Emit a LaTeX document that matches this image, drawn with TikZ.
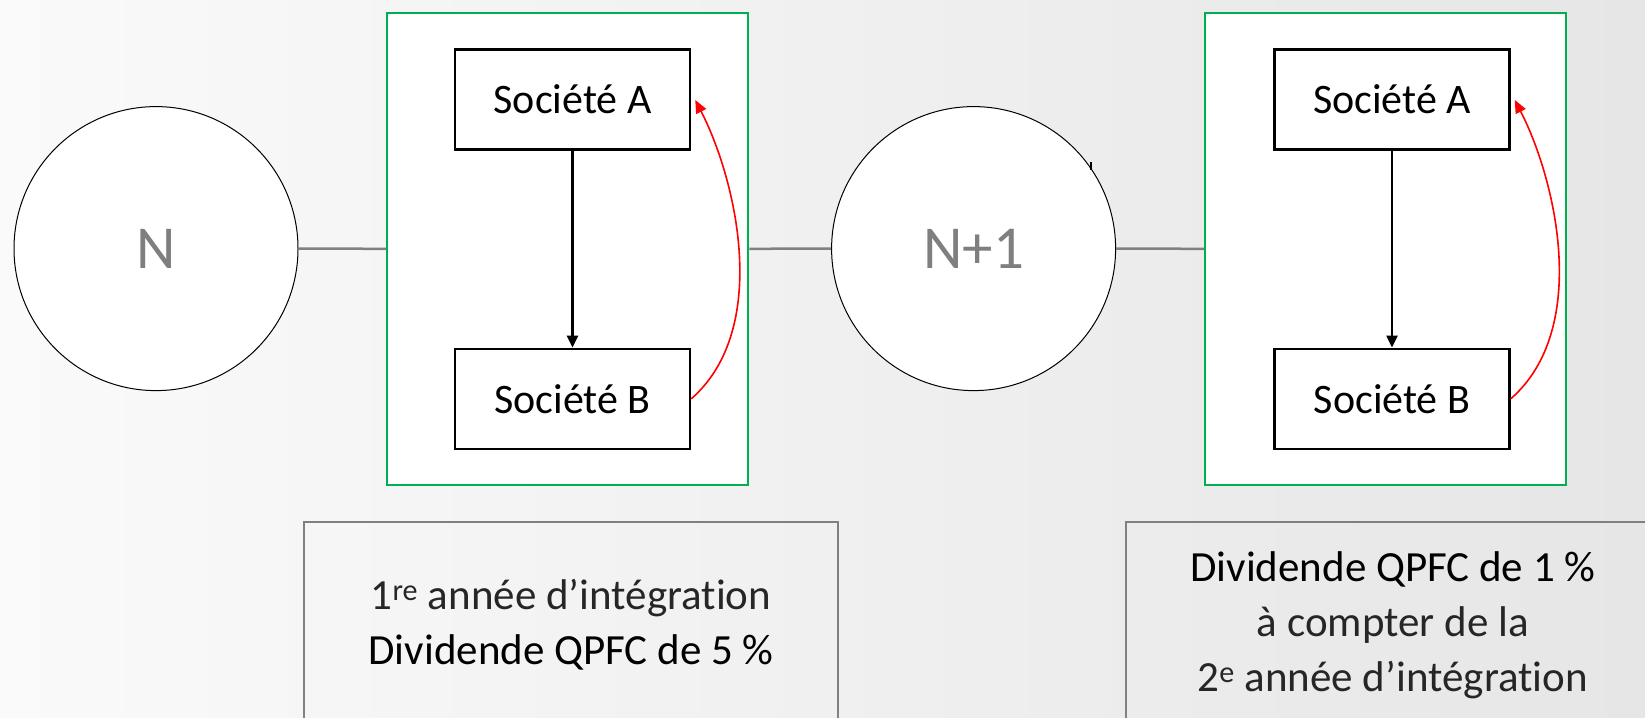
\documentclass[tikz,border=0pt]{standalone}
\usepackage{fontspec}
\setmainfont{Carlito}[Ligatures=NoCommon]
\usetikzlibrary{arrows.meta,calc}
\definecolor{bgL}{HTML}{FAFAFA}
\definecolor{bgR}{HTML}{E6E6E6}
\definecolor{grn}{HTML}{00B050}
\definecolor{lnGray}{HTML}{808080}
\definecolor{txtGray}{HTML}{7F7F7F}
\definecolor{lightTxt}{HTML}{262626}
\begin{document}
\begin{tikzpicture}[x=1pt,y=-1pt,
 yearcircle/.style={circle, draw=black, line width=1pt, fill=white, minimum size=284pt, inner sep=0pt, text=txtGray, font=\fontsize{61}{70}\selectfont},
 groupbox/.style={draw=grn, line width=2.5pt, fill=white, minimum width=361pt, minimum height=472pt, inner sep=0pt},
 companybox/.style={draw=black, line width=2.5pt, fill=white, minimum width=235pt, minimum height=100pt, inner sep=0pt, font=\fontsize{42}{50}\selectfont},
 link/.style={draw=lnGray, line width=2.5pt},
 flow/.style={draw=black, line width=2.4pt, -{Triangle[width=11pt,length=12pt]}},
 back/.style={draw=red, line width=1.6pt, -{Triangle[width=11pt,length=13pt]}},
 notebox/.style={draw=lnGray, line width=2.5pt, minimum width=534pt, minimum height=206pt, align=center, font=\fontsize{43}{55}\selectfont, inner sep=0pt}
]
\useasboundingbox (0,0) rectangle (1645,717);
\clip (0,0) rectangle (1645,717);
\shade[left color=bgL, right color=bgR] (0,0) rectangle (1645,717);

\node[yearcircle] (N0) at (156,248.6) {N};
\node[groupbox] (G1) at (567.7,248.8) {};
\node[yearcircle] (N1) at (973.6,248.6) {N+1};
\node[groupbox] (G2) at (1385.5,248.8) {};
\node[companybox] (A1) at (572.5,99.5) {Société A};
\node[companybox] (B1) at (572.5,398.8) {Société B};
\node[companybox] (A2) at (1392,99.5) {Société A};
\node[companybox] (B2) at (1392,398.8) {Société B};

\draw[link] (N0.east) -- (G1.west);
\draw[link] (G1.east) -- (N1.west);
\draw[link] (N1.east) -- (G2.west);

\draw[flow] (A1.south) -- (B1.north);
\draw[flow] (A2.south) -- (B2.north);

\draw[back] (B1.east) .. controls ($(B1.east)+(80,-70)$) and ($(A1.east)+(45,80)$) .. ($(A1.east)+(4,0.5)$);
\draw[back] (B2.east) .. controls ($(B2.east)+(80,-70)$) and ($(A2.east)+(45,80)$) .. ($(A2.east)+(4,0.5)$);

\draw[line width=1.5pt] (1091,162) -- (1091,170);

\node[notebox] (T1) at (571,625) {{\color{lightTxt}1\textsuperscript{re} année d’intégration}\\Dividende QPFC de 5~\%};
\node[notebox] (T2) at (1392.8,625) {Dividende QPFC de 1~\%\\{\color{lightTxt}à compter de la}\\{\color{lightTxt}2\textsuperscript{e} année d’intégration}};
\end{tikzpicture}
\end{document}
